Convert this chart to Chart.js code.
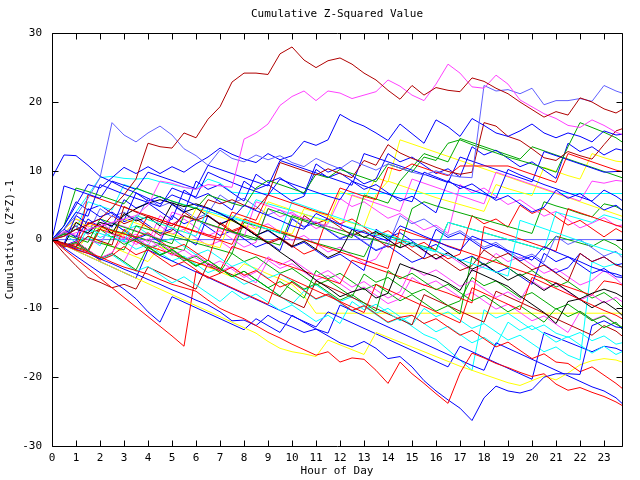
<!DOCTYPE html>
<html>
<head>
<meta charset="utf-8">
<title>Cumulative Z-Squared Value</title>
<script src="https://cdn.jsdelivr.net/npm/chart.js@4.4.0/dist/chart.umd.min.js"></script>
<style>
    html, body { margin: 0; padding: 0; background: #ffffff; }
    #wrap { width: 640px; height: 480px; }
</style>
</head>
<body>
<div id="wrap"><canvas id="z-chart" width="640" height="480"></canvas></div>
<script>
// sample times (hour of day) shared by every series
const hours = [0,0.5,1,1.5,2,2.5,3,3.5,4,4.5,5,5.5,6,6.5,7,7.5,8,8.5,9,9.5,10,10.5,11,11.5,12,12.5,13,13.5,14,14.5,15,15.5,16,16.5,17,17.5,18,18.5,19,19.5,20,20.5,21,21.5,22,22.5,23,23.5,23.75];
const hourTicks = [0,1,2,3,4,5,6,7,8,9,10,11,12,13,14,15,16,17,18,19,20,21,22,23];
const valueTicks = [-30,-20,-10,0,10,20,30];

// cumulative (z*z)-1 per series
const dr1 = [0,0.5,1.5,2.2,3,4.6,6.5,8.8,14,13.5,13.3,15.5,14.8,17.5,19.3,22.9,24.2,24.2,24,27,28,26.1,25,26,26.4,25.5,24.2,23.2,21.7,20.4,22.4,21,22.1,21.7,21.5,23.5,23,22,21.2,20,18.9,17.8,18.6,18.1,20.6,20,19,18.4,18.9];
const m1 = [0,0.5,1,1.5,2,2.5,3,3.5,5,8.5,8.2,7.6,7.3,8,7.8,7.6,14.6,15.5,16.8,19.5,20.8,21.6,20.2,21.6,21.3,20.5,21,21.5,23.2,22.3,21,20.2,22.6,25.5,24.2,22.2,22,23.9,22.6,20.3,19.3,18.3,17.6,16.6,16.3,17.4,16.6,15.6,15.3];
const lb1 = [0,1.5,3.5,6,9,17,15.2,14.2,15.5,16.5,15.2,13.2,12.2,10.8,13,11.8,11.3,12.3,11.6,12.2,11.2,10.6,11.8,11,10.3,11.5,10.8,10.1,11,10.4,9.8,9.4,10,9.4,9.1,9,22.4,21.6,21.8,21.2,22,19.6,20.2,20.2,20.5,20.1,22.4,21.6,21.3];
const b1 = [9,12.3,12.2,10.8,9.2,8.4,7.5,6.8,6,5.2,6.5,5.8,5,4.5,3.8,3,5,4.2,3.5,2.8,2,1.5,3.8,3,2.2,1.5,1,0.4,-0.2,2,1.3,0.5,-0.2,-1,-1.6,0.5,-0.2,-1,-1.6,-2.2,-3,-1,-1.8,-2.5,-3.2,-4,-4.6,-5,-5.3];
const b2 = [0,2,5,8,7.5,9,10.5,9.6,10.6,9.6,10.6,9.8,11,12,13.3,12.4,11.7,11.2,12.5,11.6,12.2,14.3,13.7,14.5,18.2,17.2,16.5,15.5,14.4,16.8,15.4,14,17.4,16.4,15,17.6,16.6,15.5,15,15.8,16.8,15.5,14.8,15.5,15,14.2,15.8,15.2,15.3];
const dr2 = [0,-0.5,-1,0.5,-0.2,-0.8,4.8,4,3.3,2.6,2,3.5,2.8,5.8,5.2,5.8,5,4.4,6.5,11.2,10.6,10,9.4,10.3,9.6,9,11.5,10.8,13.8,12.6,11.8,11.2,10.5,9.9,9.5,9.8,17,16.5,15,14.4,13.2,11.9,11.5,12.8,12.2,11.7,13.8,15.8,16.1];
const c1 = [0,1.5,4,6.5,9,9.2,8.9,8.8,8.9,8.4,8,7.6,7.3,8.8,8.2,6.9,6.7,6.7,6.7,6.7,6.7,6.7,6.7,6.7,6.7,6.7,6.7,6.7,6.7,6.7,6.7,6.7,6.7,6.7,6.7,6.7,6.7,6.7,6.7,6.7,6.7,6.7,6.7,6.7,6.7,6.7,6.7,6.7,6.7];
const y1 = [0,-0.8,-1.5,0.5,-0.3,-1,-1.8,-2.5,-3.2,-1,-1.8,-2.6,-3.3,-4,-4.7,-5.4,-3.5,-4.2,-5,-5.7,-6.5,-8.2,-10.7,-10.7,-10.7,-10.7,-10.7,-10.7,-10.7,-10.7,-10.7,-10.7,-10.7,-10.7,-10.7,-10.7,-10.7,-10.7,-10.7,-10.7,-10.7,-10.7,-10.7,-10.7,-10.7,-10.7,-10.7,-10.7,-10.7];
const zero = [0,0,0,0,0,0,0,0,0,0,0,0,0,0,0,0,0,0,0,0,0,0,0,0,0,0,0,0,0,0,0,0,0,0,0,0,0,0,0,0,0,0,0,0,0,0,0,0,0];
const g1 = [0,2,7.5,7,6.4,5.8,5.2,7.5,6.8,6.2,5.6,5,4.5,6.5,5.9,5.3,4.8,7.5,8.6,8,7.4,6.8,9.5,9,10.2,9.6,9,8.4,11,10.4,9.8,12,11.5,14,14.5,13.8,13.2,12.6,12,11.5,11,10.4,9.8,13.5,17,16.3,15.6,14.8,14.2];
const b9 = [0,1.5,4,3.4,8,7.3,6.6,6,5.4,4.8,7.5,6.8,6.2,9.8,9,8.3,7.6,7,6.4,8.8,8.1,7.5,6.9,6.3,5.8,8.5,7.8,7.2,6.6,6,5.5,9.8,9.1,8.4,7.8,7.2,6.6,6,10.2,9.4,8.7,8,7.4,6.8,6.2,5.6,7.2,6.3,5.7];
const r6 = [0,-0.6,-1.2,2.5,1.9,1.3,0.8,0.3,3.5,2.9,2.3,1.8,1.2,0.7,0.2,4,3.4,2.8,6.5,5.9,5.3,4.7,4.1,3.6,7.5,6.9,6.3,5.8,10.5,10,11,10.4,9.8,9.3,10.7,10.7,10.7,10.7,10.7,10.1,9.5,8.9,8.3,12.5,11.9,11.3,10.7,10.1,9.9];
const k1 = [0,0.5,1.5,1,2.5,2,3.5,4.5,5.3,5.8,5.3,4.8,5.2,4.6,3.8,2.8,1.8,0.6,-0.5,-1.8,-3,-4.5,-5.9,-7,-8.3,-7.6,-7.1,-8.5,-7.8,-3.5,-4.2,-4.8,-5.4,-6.3,-7.4,-4.4,-5.2,-6,-6.8,-8.2,-9.4,-10.6,-12.2,-9,-8.6,-7.8,-7.2,-7.8,-8.3];
const y4 = [0,1,2.5,2,1.5,1,3,2.4,1.8,1.3,0.8,0.3,-0.2,-0.7,-1.2,3.5,2.9,2.3,1.8,1.3,0.8,4.5,4,3.4,2.9,2.4,1.9,6.5,8.5,7.9,7.3,6.7,6.1,5.6,5.1,4.6,4.1,8,7.4,6.9,6.4,10.5,9.9,9.3,8.8,12.5,11.9,11.4,11.3];
const g2 = [0,-0.6,-1.1,-1.6,2,1.4,0.9,0.4,-0.1,-0.6,-1.1,-1.6,2.8,2.2,1.7,1.2,0.7,0.2,-0.3,-0.8,3.5,2.9,2.4,1.9,1.4,0.9,0.4,-0.1,-0.6,-1.1,4.5,5.5,4.9,4.4,3.9,3.4,2.9,2.4,1.9,1.4,0.9,5.5,4.9,4.4,3.8,3.3,5.2,4.8,4.3];
const c2 = [0,0.8,1.5,5.5,4.9,4.3,8,7.4,6.8,6.2,5.6,5.1,4.6,4.1,3.6,3.1,2.6,5.8,5.2,4.7,4.2,3.7,3.2,2.7,2.2,1.7,1.2,0.7,0.2,-0.3,-0.8,-1.3,-1.8,2.5,2,1.5,1,0.5,0,-0.5,-1,-1.5,4,3.5,3,2.5,3.6,3.1,2.8];
const m4 = [0,1.5,3,1.8,2.5,1.3,0.1,0.8,-0.4,3.5,2.3,3,1.8,0.6,1.3,0.1,-1.1,-0.4,4.5,3.3,4,2.8,1.6,2.3,6,4.8,5.5,4.3,3.1,3.8,2.6,1.4,2.1,0.9,8,6.8,7.5,6.3,5.1,5.8,4.6,3.4,4.1,2.9,1.7,2.4,3.2,2,2.1];
const r7 = [0,-1,-0.3,-1.5,-2.7,-2,1.5,0.3,1,-0.2,-1.4,-0.7,-1.9,-3.1,2.5,1.3,2,0.8,-0.4,0.3,-0.9,-2.1,-1.4,3.5,2.3,3,1.8,0.6,1.3,0.1,-1.1,-0.4,-1.6,-2.8,-2.1,3.5,2.3,3,1.8,5,3.8,4.5,3.3,2.1,2.8,1.6,0.4,1.6,1.1];
const g6 = [0,1,0.5,0,-0.5,-1,-1.5,2,1.5,1,0.5,0,-0.5,-1,-1.5,-2,2.5,2,1.5,1,0.5,0,-0.5,-1,-1.5,-2,-2.5,1,0.5,0,-0.5,-1,-1.5,2.5,2,1.5,1,0.5,0,-0.5,-1,-1.5,0.5,0,-0.5,-1,0,-0.8,-1.5];
const b10 = [0,-0.9,-0.2,3,1.8,2.5,1.3,0.1,0.8,-0.4,3.5,2.3,3,1.8,0.6,1.3,0.1,-1.1,-0.4,-1.6,3,1.8,2.5,1.3,0.1,0.8,-0.4,-1.6,-0.9,-2.1,-3.3,-2.6,1.5,0.3,1,-0.2,-1.4,-0.7,-1.9,-3.1,-2.4,-3.6,-4.8,-4.1,-2,-3.2,-2.5,-3.7,-3.5];
const c5 = [0,-0.9,-0.3,1.5,0.3,1,-0.2,-1.4,-0.7,-1.9,-3.1,-2.4,-3.6,-4.8,-4.1,-5.3,-6.5,-5.8,-7,-8.2,-9.4,-7.5,-8.7,-8,-9.2,-10.4,-9.7,-10.9,-12.1,-11.4,-12.6,-13.8,-14.5,-16,-17.5,-19,-10.2,-11.4,-10.7,-11.9,-13.1,-12.4,-13.6,-14.2,-13.5,-14.7,-14,-15.2,-15];
const c6 = [0,0.8,-0.4,0.3,-0.9,2.5,1.3,2,0.8,-0.4,0.2,-1,-2.2,-1.5,-2.7,-3.9,-3.2,-4.4,-5.6,-4.9,-6.1,-7.3,-6.6,-7.8,-9,-8.3,-9.5,-10.7,-10,-11.2,-12.4,-10,-11.2,-10.5,-11.7,-12.9,-12.2,-13.4,-14.6,-13.9,-15.1,-16.3,-15.6,-16.8,-17.5,-3.2,-4,-3.5,-4];
const b11 = [0,2,5.5,4.3,5,3.8,2.6,3.3,2.1,0.9,1.6,0.4,-0.8,3.5,2.3,3,1.8,0.6,1.3,0.1,-1.1,-0.4,-1.6,-2.8,-2.1,-3.3,-4.5,1.5,0.3,1,-0.2,-1.4,-0.7,-1.9,-3.1,-2.4,-3.6,-4.8,-4.1,-5.3,-6.5,-2,-3.2,-2.5,-3.7,-4.9,-4.2,-5.4,-5.5];
const m5 = [0,1,2.5,1.3,2,0.8,-0.4,0.3,-0.9,2,0.8,1.5,0.3,-0.9,-0.2,-1.4,2.8,1.6,2.3,1.1,-0.1,0.6,-0.6,-1.8,-1.1,-2.3,-3.5,-2.8,0,-1.2,-0.5,-1.7,-2.9,-2.2,-3.4,-4.6,-3.9,-2,-3.2,-2.5,-3.7,-4.9,-4.2,-5.4,-6.6,-5.9,-4.5,-5.7,-6.5];
const g7 = [0,-1,-0.3,-1.5,1.5,0.3,1,-0.2,-1.4,-0.7,-1.9,-3.1,-2.4,-3.6,-4.8,-2,-3.2,-2.5,-3.7,-4.9,-4.2,-5.4,-6.6,-5.9,-7.1,-8.3,-5,-6.2,-5.5,-6.7,-7.9,-7.2,-8.4,-9.6,-8.9,-5.5,-6.7,-6,-7.2,-8.4,-7.7,-8.9,-10.1,-9.4,-10.6,-11.8,-11.1,-12.3,-12.7];
const m6 = [0,-1,-0.3,-1.5,-2.7,-2,-3.2,0,-1.2,-0.5,-1.7,-2.9,-2.2,-3.4,-4.6,-3.9,-5.1,-6.3,-3,-4.2,-3.5,-4.7,-5.9,-5.2,-6.4,-7.6,-6.9,-8.1,-9.3,-8.6,-5.5,-6.7,-6,-7.2,-8.4,-7.7,-8.9,-10.1,-9.4,-10.6,-11.8,-11.1,-12.3,-13.5,-10.5,-11.7,-11,-12.2,-12.9];
const r2 = [0,-0.8,-1.5,-2,-2.5,-3.3,-4,-4.5,-5,-5.8,-6.5,-7,-7.5,-8.8,-10,-10.8,-11.5,-12.5,-13.5,-14.3,-15.2,-16,-16.8,-16.3,-17.8,-17.2,-17.4,-19,-20.9,-17.8,-19.5,-20.9,-22.4,-23.8,-19.4,-16.5,-17.2,-18,-18.6,-19.3,-19.9,-19.5,-21,-21.9,-21.5,-22.2,-22.8,-23.6,-24.1];
const b3 = [0,-0.6,-1.4,-2,-2.8,-3.5,-4.3,-5,-5.8,-6.5,-7.3,-8,-8.8,-9.5,-10.5,-11.8,-11.7,-12.5,-11,-12,-12.7,-13.5,-13,-14,-15,-15.6,-14.8,-15.8,-17.3,-17,-18.5,-20.5,-22,-23.3,-24.5,-26.3,-23,-21.3,-22,-22.3,-21.8,-20,-19.5,-19.5,-19.6,-12.5,-11.8,-12.7,-12.8];
const r3 = [0,-1.1,-0.6,-1.8,-3,-2.3,-1,-2.2,-1.5,-2.7,-3.9,-3.2,-4.4,-5.6,-4.9,-4,-5.2,-4.5,-5.7,-6.9,-6.2,-7.4,-8.6,-7.9,-9.1,-10.3,-9.6,-10.8,-12,-11.3,-11,-12.2,-11.5,-12.7,-13.9,-13.2,-14.4,-15.6,-14.9,-16.1,-17.3,-16.6,-17.8,-18,-19.2,-18.5,-19.7,-20.9,-21.6];
const b4 = [0,-0.8,-1.6,-2.4,-3.2,-4,-4.8,-5.6,-1.5,-2.3,-3.1,-3.9,-4.7,-5.5,-6.3,-7.1,-7.9,-8.7,-9.5,-10.3,-11.1,-11.9,-12.7,-10.5,-11.3,-12.1,-12.9,-13.7,-14.5,-15.3,-16.1,-16.9,-17.7,-18.5,-15.5,-16.3,-17.1,-17.9,-18.7,-19.5,-20.3,-13.5,-14.2,-14.9,-15.6,-16.3,-15.5,-15.8,-16.2];
const y2 = [0,-0.8,-1.6,-2.4,-3.2,-4,-4.8,-5.6,-6.4,-7.2,-8,-8.8,-9.6,-10.4,-11.2,-12,-12.8,-13.6,-14.8,-15.8,-16.3,-16.6,-17,-14.6,-15.3,-16,-16.7,-13.5,-14.2,-14.9,-15.6,-16.3,-17,-17.7,-18.4,-19,-19.6,-20.2,-20.8,-21.2,-20.5,-19.8,-20.4,-19.4,-18.2,-17.6,-17.3,-17.5,-17.8];
const dr3 = [0,-2,-3.8,-5.5,-6.2,-7,-6.5,-7.2,-4,-4.8,-5.6,-6.4,-7.2,-3.5,-4.3,-5.1,-5.9,-6.7,-7.5,-8.3,-9.1,-9.9,-6,-6.8,-7.6,-8.4,-9.2,-10,-10.8,-11.6,-12.4,-8,-8.8,-9.6,-10.4,-11.2,-12,-7.5,-8.3,-9.1,-9.9,-10.7,-11.5,-12.3,-13.1,-13.9,-12.5,-13.3,-14];
const r1 = [0,-1.4,-2.8,-4.2,-5.6,-7,-8.4,-9.8,-11.2,-12.6,-14,-15.5,-4.6,-5.4,-6.2,-7,-7.8,-8.6,-9.4,-5,-5.8,-6.6,-7.4,-8.2,-9,-9.8,-10.6,-6.5,-7.3,-8.1,-8.9,-9.7,-10.5,-11.3,-12.1,-7,-7.8,-8.6,-9.4,-10.2,-5.5,-6.3,-7.1,-7.9,-8.7,-9.5,-10.3,-11,-11.5];
const b5 = [0,-1.2,-2.4,-3.6,-4.8,-6,-7.2,-8.6,-10.5,-12,-8.3,-9.1,-9.9,-10.7,-11.5,-12.3,-13.1,-11.5,-12.5,-13.5,-11,-12,-13,-13.6,-9.5,-10.3,-11.1,-11.9,-12.7,-13.5,-14.3,-15.1,-15.9,-16.7,-17.5,-18.3,-19,-15,-15.8,-16.6,-17.4,-18.2,-19,-19.8,-20.6,-21.4,-22,-23,-23.8];
const b6 = [0,7.8,7.2,6.6,6,8.5,7.9,7.3,9.8,9.2,8.6,8,7.4,10.8,10.2,9.6,9,8.4,7.8,11.5,10.9,10.3,9.7,9.1,8.5,7.9,12.5,11.9,11.3,10.7,10.1,9.5,8.9,8.3,12,11.4,10.8,10.2,9.6,9,8.4,12.8,12.2,11.6,11,10.4,9.8,9.9,9.9];
const b7 = [0,-0.6,3.5,2.3,3,1.8,5.8,4.6,5.3,4.1,2.9,7.2,6,6.7,5.5,4.3,8.5,7.3,8,6.8,5.6,6.3,10.2,9,9.7,8.5,7.3,8,6.8,5.6,6.3,5.1,3.9,8.6,7.4,8.1,6.9,5.7,6.4,5.2,4,4.7,7.2,6,6.7,5.5,4.3,5,4.3];
const b8 = [0,1.5,0.3,4.5,3.3,4,2.8,6.8,5.6,6.3,5.1,3.9,8.5,7.3,8,6.8,5.6,9.5,8.3,9,7.8,6.6,11,9.8,10.5,9.3,8.1,8.8,12.5,11.3,12,10.8,9.6,10.3,9.1,13.5,12.3,13,11.8,10.6,11.3,10.1,8.9,14,12.8,13.5,12.3,13.2,13];
const g3 = [0,0.8,0.2,-0.4,3,2.4,1.8,1.2,0.6,0,-0.6,3.5,2.9,2.3,1.7,1.1,0.5,-0.1,4.5,3.9,3.3,2.7,2.1,1.5,0.9,0.3,6.5,5.9,5.3,8.5,10.5,12.5,11.9,11.3,14.7,14.1,13.5,12.9,12.3,11.7,13.5,12.9,12.3,11.7,11.1,10.5,9.9,9.3,9];
const c3 = [0,-0.6,-1.2,1.5,0.9,0.3,-0.3,3.5,2.9,2.3,1.7,1.1,0.5,4.5,3.9,3.3,2.7,2.1,1.5,0.9,5.5,4.9,4.3,3.7,3.1,2.5,1.9,1.3,0.7,0.1,-0.5,-1.1,-1.7,-2.3,-2.9,-3.5,-4.1,-4.7,-5.3,2.8,2.2,1.6,1,0.4,-0.2,-0.8,-1.4,-1.9,-2.2];
const m2 = [0,1.2,0.6,0,-0.6,2.5,1.9,1.3,0.7,0.1,4,3.4,2.8,2.2,1.6,1,0.4,5.5,4.9,4.3,3.7,3.1,2.5,1.9,1.3,6.5,5.9,5.3,4.7,4.1,8.8,8.2,7.6,7,6.4,5.8,5.2,9.8,9.2,8.6,8,7.4,6.8,6.2,5.6,8.5,8.2,8.6,8.5];
const k2 = [0,-0.8,2.5,1.4,2.2,0.9,3.8,2.7,3.3,2,5.2,4,4.6,3.4,2.2,3,1.8,0.6,1.4,0.2,-1,-0.2,-1.4,-2.6,-1.8,1.5,0.3,1.2,0,-1.2,-0.4,-1.6,-2.8,-1.9,-3.1,-4.3,-3.5,-4.7,-5.9,-5,-6.2,-7.4,-6.3,-7.5,-8.7,-9.9,-9,-10.2,-11];
const g4 = [0,-1,-0.4,-1.6,-2.8,0.5,-0.7,0.1,-1.1,-2.3,-1.5,-2.7,-3.9,-3,-4.2,-5.4,-4.6,-5.8,-7,-8.2,-6,-7.2,-6.4,-7.6,-8.8,-8,-9.2,-10.4,-4.5,-5.7,-4.9,-6.1,-7.3,-6.5,-7.7,-8.9,-8.1,-9.3,-10.5,-9.6,-10.8,-12,-10,-11.2,-10.4,-11.6,-12.8,-12,-13];
const c4 = [0,-1.1,-0.5,-1.7,-2.9,-2.2,-3.4,-4.6,-3.9,-5.1,-6.3,-5.4,-6.6,-7.8,-9,-7.5,-8.7,-7.9,-9.1,-10.3,-9.5,-10.7,-11.9,-11,-12.2,-9,-10.2,-9.4,-10.6,-11.8,-11,-12.2,-13.4,-12.6,-13.8,-15,-14.2,-15.4,-12,-13.2,-12.5,-13.7,-14.9,-14.1,-15.3,-16.5,-15.5,-16.7,-16.3];
const m3 = [0,-1,-0.3,-1.5,-2.7,-1.9,0.5,-0.7,0.1,-1.1,-2.3,-1.5,-2.7,-3.9,-3.1,-4.3,-5.5,-4.7,-2.5,-3.7,-2.9,-4.1,-5.3,-4.5,-5.7,-6.9,-6.1,-7.3,-8.5,-7.6,-4,-5.2,-4.4,-5.6,-6.8,-6,-7.2,-8.4,-7.6,-8.8,-6,-7.2,-6.4,-7.6,-8.8,-8,-9.2,-8.4,-9];
const r4 = [0,-0.7,-1.4,6.5,5.9,5.3,4.7,4.1,3.5,2.9,2.3,1.7,1.1,0.5,-0.1,-0.7,3,2.4,1.8,1.2,0.6,0,-0.6,-1.2,-1.8,-2.4,-3,-3.6,-4.2,1.5,0.9,0.3,-0.3,-0.9,-1.5,-2.1,-2.7,-3.3,-3.9,-4.5,-5.1,-5.7,-6.3,-6.9,-7.5,-8.1,-6,-6.3,-6.6];
const r5 = [0,-0.6,-1.2,-1.8,1.5,0.9,0.3,-0.3,-0.9,-1.5,-2.1,-2.7,-3.3,-3.9,-4.5,-1,-1.6,-2.2,-2.8,-3.4,-4,-4.6,-5.2,-5.8,-6.4,-3,-3.6,-4.2,-4.8,-5.4,-6,-6.6,-7.2,-7.8,-8.5,-9.2,1.9,1.3,0.7,0.1,-0.5,-1.1,-1.7,4.5,3.9,3.3,2.7,2.1,1.8];
const g5 = [0,-1.1,-0.4,-1.6,-2.8,-2,-3.2,-4.4,-1,-2.2,-1.4,-2.6,-3.8,-3,-4.2,-5.4,-4.6,-5.8,-7,-6.1,-7.3,-8.5,-4.5,-5.7,-4.9,-6.1,-7.3,-6.5,-7.7,-8.9,-8,-9.2,-10.4,-9.6,-10.8,-2.5,-3.7,-2.9,-4.1,-5.3,-4.5,-5.7,-6.9,-6.1,-7.3,-8.5,-7.7,-8.9,-9.8];
const y3 = [0,1.5,3,2.4,1.8,1.2,0.6,3.5,2.9,2.3,1.7,1.1,4.5,3.9,3.3,2.7,2.1,1.5,5.5,4.9,4.3,3.7,3.1,2.5,7,6.4,5.8,9,8.4,14.5,13.9,13.3,12.7,12.1,11.5,10.9,10.3,9.7,9.1,8.5,7.9,7.3,6.7,6.1,5.5,4.9,4.3,3.7,3.4];
const lb2 = [0,1,2,0.8,4.5,3.3,4,2.8,6,4.8,5.5,4.3,3.1,3.8,6.5,5.3,6,4.8,3.6,4.3,3.1,1.9,2.6,1.4,0.2,0.9,-0.3,-1.5,-0.8,3.5,2.3,3,1.8,0.6,1.3,0.1,-1.1,-0.4,-1.6,-2.8,-2.1,-3.3,0.5,-0.7,0,-1.2,-2.4,-1.7,-2.6];
const dr4 = [0,0.8,2,0.8,1.5,3.5,2.3,3,1.8,0.6,1.3,4,2.8,3.5,2.3,1.1,1.8,0.6,-0.6,0.1,-1.1,3.5,2.3,3,1.8,0.6,1.3,0.1,-1.1,-0.4,-1.6,-2.8,-2.1,-3.3,-4.5,-3.8,-1.5,-2.7,-2,-3.2,-4.4,-3.7,-4.9,-6.1,-2,-3.2,-2.5,-3.7,-4];

const palette = {
    red: '#ff0000',
    darkred: '#b00000',
    green: '#00a800',
    blue: '#0000ff',
    lightblue: '#6060ff',
    magenta: '#ff40ff',
    cyan: '#00ffff',
    yellow: '#ffff00',
    black: '#000000'
};

// series and the colour each one is drawn in
const seriesList = [
    [dr1, 'darkred'], [m1, 'magenta'], [lb1, 'lightblue'], [b1, 'blue'], [b2, 'blue'],
    [dr2, 'darkred'], [g1, 'green'], [b9, 'blue'], [r6, 'red'], [k1, 'black'],
    [r2, 'red'], [b3, 'blue'], [r3, 'red'], [y2, 'yellow'], [r1, 'red'],
    [b5, 'blue'], [b6, 'blue'], [b7, 'blue'], [b8, 'blue'], [g3, 'green'],
    [c3, 'cyan'], [m2, 'magenta'], [k2, 'black'], [g4, 'green'], [c4, 'cyan'],
    [m3, 'magenta'], [r4, 'red'], [r5, 'red'], [g5, 'green'], [y3, 'yellow'],
    [lb2, 'lightblue'], [dr4, 'darkred'], [dr3, 'darkred'], [b4, 'blue'], [y4, 'yellow'],
    [g2, 'green'], [c2, 'cyan'], [m4, 'magenta'], [r7, 'red'], [g6, 'green'],
    [b10, 'blue'], [c5, 'cyan'], [c6, 'cyan'], [b11, 'blue'], [m5, 'magenta'],
    [g7, 'green'], [m6, 'magenta'], [c1, 'cyan'], [y1, 'yellow'], [zero, 'lightblue']
];

const monoFont = { family: "'DejaVu Sans Mono', monospace", size: 11, weight: 'normal' };

// box round the plot with inward ticks on all four sides
const plotFrame = {
    id: 'plotFrame',
    afterDatasetsDraw(chart) {
        const ctx = chart.ctx;
        const a = chart.chartArea;
        const xs = chart.scales.x;
        const ys = chart.scales.y;
        const left = Math.floor(a.left) + 0.5;
        const right = Math.floor(a.right) + 0.5;
        const top = Math.floor(a.top) + 0.5;
        const bottom = Math.floor(a.bottom) + 0.5;
        const len = 6;

        ctx.save();
        ctx.strokeStyle = '#000';
        ctx.lineWidth = 1;
        ctx.beginPath();
        ctx.rect(left, top, right - left, bottom - top);
        hourTicks.forEach(v => {
            const px = Math.round(xs.getPixelForValue(v)) + 0.5;
            ctx.moveTo(px, bottom);
            ctx.lineTo(px, bottom - len);
            ctx.moveTo(px, top);
            ctx.lineTo(px, top + len);
        });
        valueTicks.forEach(v => {
            const py = Math.round(ys.getPixelForValue(v)) + 0.5;
            ctx.moveTo(left, py);
            ctx.lineTo(left + len, py);
            ctx.moveTo(right, py);
            ctx.lineTo(right - len, py);
        });
        ctx.stroke();
        ctx.restore();
    }
};

const datasets = seriesList.map(([vals, colorKey]) => ({
    data: hours.map((h, i) => ({ x: h, y: vals[i] })),
    borderColor: palette[colorKey],
    backgroundColor: palette[colorKey],
    borderWidth: 1,
    pointRadius: 0,
    fill: false,
    tension: 0
}));

new Chart(document.getElementById('z-chart'), {
    type: 'line',
    data: { datasets: datasets },
    options: {
        responsive: false,
        animation: false,
        devicePixelRatio: 1,
        layout: { padding: { left: 0, right: 18, top: 0, bottom: 0 } },
        plugins: {
            legend: { display: false },
            tooltip: { enabled: false },
            title: {
                display: true,
                text: 'Cumulative Z-Squared Value',
                color: '#000',
                font: monoFont,
                fullSize: false,
                padding: { top: 8, bottom: 12 }
            }
        },
        scales: {
            x: {
                type: 'linear',
                min: 0,
                max: 23.75,
                grid: { display: false, drawTicks: false },
                border: { display: false },
                afterBuildTicks: scale => { scale.ticks = hourTicks.map(v => ({ value: v })); },
                ticks: { color: '#000', font: monoFont, padding: 6, maxRotation: 0, autoSkip: false },
                title: { display: true, text: 'Hour of Day', color: '#000', font: monoFont, padding: { top: 0, bottom: 2 } },
                afterFit: scale => { scale.height = 34; }
            },
            y: {
                min: -30,
                max: 30,
                grid: { display: false, drawTicks: false },
                border: { display: false },
                afterBuildTicks: scale => { scale.ticks = valueTicks.map(v => ({ value: v })); },
                ticks: { color: '#000', font: monoFont, padding: 10 },
                title: { display: true, text: 'Cumulative (Z*Z)-1', color: '#000', font: monoFont, padding: { top: 4, bottom: 0 } },
                afterFit: scale => { scale.width = 52; }
            }
        }
    },
    plugins: [plotFrame]
});
</script>
</body>
</html>
